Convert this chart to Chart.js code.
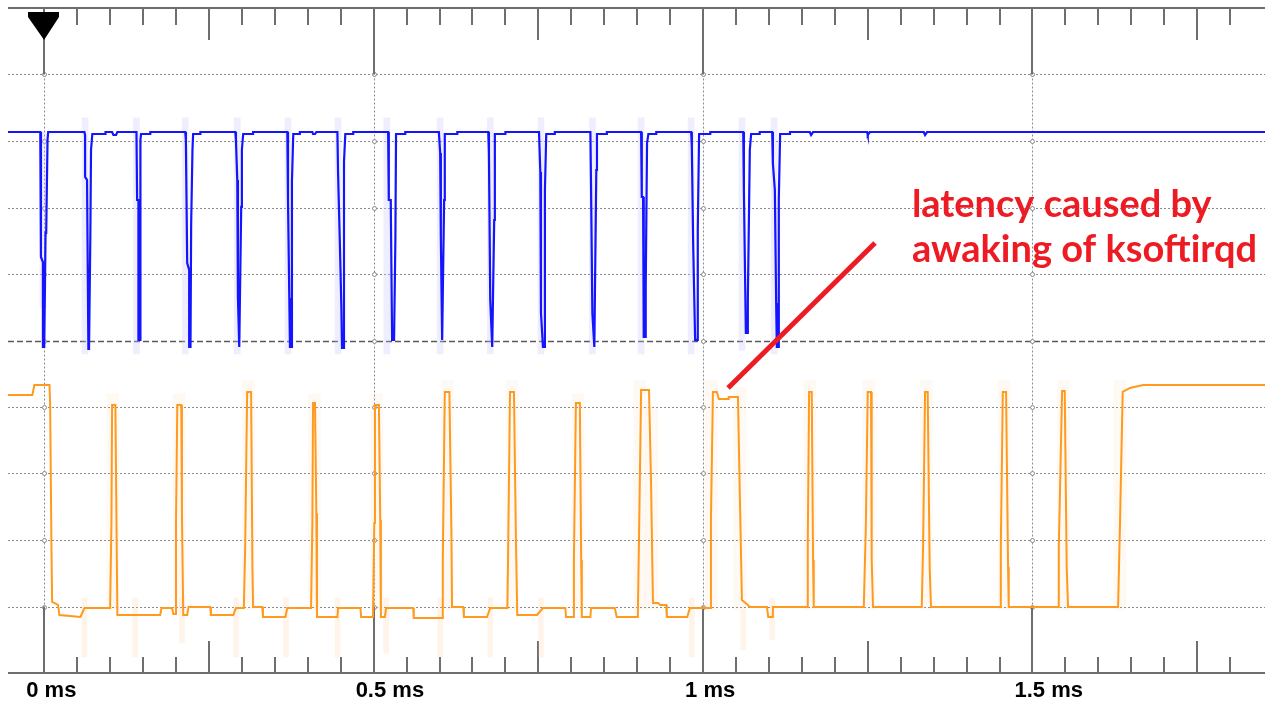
<!DOCTYPE html>
<html>
<head>
<meta charset="utf-8">
<title>ksoftirqd latency</title>
<script src="https://cdn.jsdelivr.net/npm/chart.js@4.4.0/dist/chart.umd.min.js"></script>
<style>
  body { margin: 0; background: #fff; }
  canvas { display: block; }
</style>
</head>
<body>
<canvas id="scope" width="1265" height="706"></canvas>
<script>
// time in ms, level in screen divisions (0 = bottom edge, 10 = top edge)
let blueTime = [
  -0.055, -0.006, -0.005, -0.005, -0.002, -0.002, 0.000, 0.002, 0.003, 0.005, 0.006,
  0.061, 0.062, 0.062, 0.065, 0.067, 0.068, 0.070, 0.071, 0.073, 0.093, 0.093, 0.103, 0.105, 0.109, 0.111,
  0.140, 0.141, 0.143, 0.143, 0.146, 0.146, 0.147, 0.161, 0.161,
  0.214, 0.215, 0.217, 0.220, 0.220, 0.222, 0.223, 0.225, 0.226, 0.237, 0.237,
  0.290, 0.291, 0.293, 0.294, 0.296, 0.297, 0.299, 0.300, 0.302, 0.317, 0.317,
  0.369, 0.370, 0.372, 0.373, 0.375, 0.376, 0.378, 0.388, 0.388, 0.407, 0.408, 0.411, 0.413,
  0.445, 0.446, 0.449, 0.451, 0.452, 0.454, 0.455, 0.457, 0.469, 0.469,
  0.522, 0.523, 0.526, 0.528, 0.531, 0.533, 0.534, 0.548, 0.548,
  0.599, 0.601, 0.602, 0.604, 0.605, 0.607, 0.608, 0.627, 0.627,
  0.674, 0.675, 0.677, 0.680, 0.681, 0.683, 0.684, 0.700, 0.700,
  0.751, 0.753, 0.754, 0.757, 0.759, 0.760, 0.762, 0.775, 0.775,
  0.829, 0.830, 0.832, 0.835, 0.836, 0.838, 0.839, 0.854, 0.854,
  0.906, 0.907, 0.909, 0.910, 0.912, 0.913, 0.915, 0.917, 0.929, 0.929,
  0.982, 0.983, 0.985, 0.988, 0.991, 0.992, 0.994, 1.011, 1.011,
  1.061, 1.062, 1.065, 1.067, 1.068, 1.071, 1.073, 1.086, 1.086,
  1.105, 1.106, 1.109, 1.111, 1.112, 1.114, 1.115, 1.117, 1.132, 1.132,
  1.162, 1.164, 1.167, 1.249, 1.250, 1.253, 1.335, 1.337, 1.340, 1.853
];
let blueLevel = [
  8.135, 8.135, 8.045, 6.256, 6.180, 4.902, 4.902, 6.617, 6.617, 8.015, 8.135,
  8.135, 8.090, 7.459, 7.414, 4.872, 4.872, 6.586, 7.865, 8.105, 8.105, 8.135, 8.135, 8.090, 8.090, 8.135,
  8.135, 7.113, 7.113, 5.008, 5.008, 8.015, 8.105, 8.105, 8.135,
  8.135, 8.015, 6.165, 6.060, 4.902, 4.902, 6.737, 7.865, 8.105, 8.105, 8.135,
  8.135, 8.015, 7.414, 5.654, 4.902, 4.902, 7.008, 7.865, 8.105, 8.105, 8.135,
  8.135, 7.113, 5.639, 4.902, 4.902, 7.383, 8.105, 8.105, 8.135, 8.135, 8.105, 8.105, 8.135,
  8.135, 7.519, 6.361, 5.504, 4.887, 4.887, 7.684, 8.105, 8.105, 8.135,
  8.135, 7.113, 7.113, 5.008, 5.008, 6.511, 8.105, 8.105, 8.135,
  8.135, 7.820, 6.556, 5.008, 5.008, 7.113, 8.105, 8.105, 8.135,
  8.135, 7.820, 5.609, 4.902, 4.902, 6.812, 8.105, 8.105, 8.135,
  8.135, 7.534, 5.414, 4.902, 4.902, 7.263, 8.105, 8.105, 8.135,
  8.135, 7.308, 5.414, 4.902, 4.902, 7.564, 8.105, 8.105, 8.135,
  8.135, 7.158, 7.158, 5.053, 5.053, 5.805, 7.970, 8.105, 8.105, 8.135,
  8.135, 7.910, 6.466, 5.008, 5.008, 6.662, 8.105, 8.105, 8.135,
  8.135, 7.263, 5.113, 5.113, 5.609, 7.865, 8.105, 8.105, 8.135,
  8.135, 7.669, 7.263, 5.564, 4.902, 4.902, 7.113, 8.105, 8.105, 8.135,
  8.135, 8.090, 8.135, 8.135, 8.090, 8.135, 8.135, 8.090, 8.135, 8.135
];

let orangeTime = [
  -0.055, -0.018, -0.015, 0.008, 0.009, 0.011, 0.012, 0.021, 0.023, 0.055, 0.061,
  0.100, 0.102, 0.103, 0.108, 0.109, 0.111, 0.176, 0.178, 0.194, 0.196, 0.199,
  0.200, 0.202, 0.208, 0.209, 0.211, 0.217, 0.219, 0.252, 0.253, 0.287, 0.291,
  0.303, 0.305, 0.308, 0.314, 0.316, 0.317, 0.331, 0.332, 0.366, 0.369,
  0.405, 0.407, 0.408, 0.411, 0.413, 0.414, 0.445, 0.446, 0.480, 0.481,
  0.499, 0.501, 0.502, 0.508, 0.510, 0.511, 0.517, 0.519, 0.560, 0.561,
  0.604, 0.605, 0.608, 0.615, 0.618, 0.619, 0.636, 0.637, 0.672, 0.677,
  0.703, 0.704, 0.707, 0.713, 0.716, 0.718, 0.748, 0.757, 0.791, 0.792,
  0.803, 0.804, 0.807, 0.813, 0.815, 0.816, 0.829, 0.830, 0.866, 0.869,
  0.901, 0.903, 0.906, 0.918, 0.921, 0.924, 0.932, 0.935, 0.944, 0.945, 0.976, 0.980,
  1.011, 1.012, 1.015, 1.021, 1.024, 1.038, 1.039, 1.053, 1.056, 1.059, 1.068, 1.071, 1.097, 1.099, 1.105, 1.106,
  1.158, 1.159, 1.161, 1.165, 1.167, 1.168,
  1.244, 1.247, 1.250, 1.255, 1.256, 1.258,
  1.332, 1.334, 1.337, 1.341, 1.344, 1.346,
  1.451, 1.452, 1.455, 1.460, 1.463, 1.464,
  1.539, 1.540, 1.545, 1.549, 1.552, 1.554,
  1.630, 1.633, 1.637, 1.648, 1.668, 1.853
];
let orangeLevel = [
  4.180, 4.180, 4.331, 4.331, 4.000, 1.850, 1.068, 1.023, 0.872, 0.842, 0.977,
  0.977, 2.256, 4.030, 4.030, 2.947, 0.872, 0.872, 0.977, 0.977, 0.887, 0.887,
  2.256, 4.030, 4.030, 2.406, 0.872, 0.872, 0.992, 0.992, 0.872, 0.872, 0.977,
  0.977, 1.895, 4.226, 4.226, 1.594, 0.992, 0.992, 0.842, 0.842, 0.977,
  0.977, 2.256, 4.060, 4.060, 2.406, 0.842, 0.842, 0.977, 0.977, 0.842,
  0.842, 2.256, 4.030, 4.030, 2.301, 0.842, 0.842, 0.977, 0.977, 0.827,
  0.827, 1.699, 4.226, 4.226, 2.150, 0.992, 0.992, 0.842, 0.842, 0.977,
  0.977, 1.699, 4.226, 4.226, 2.000, 0.872, 0.872, 0.977, 0.977, 0.842,
  0.842, 1.699, 4.060, 4.060, 1.699, 0.842, 0.842, 0.977, 0.977, 0.842,
  0.842, 2.150, 4.256, 4.256, 2.902, 1.053, 1.053, 1.023, 1.023, 0.842, 0.842, 0.977,
  0.977, 2.301, 4.226, 4.226, 4.120, 4.120, 4.150, 4.150, 2.602, 1.098, 1.023, 0.992, 0.992, 0.842, 0.842, 0.992,
  0.992, 2.000, 4.226, 4.226, 1.699, 0.992,
  0.992, 2.150, 4.226, 4.226, 1.699, 0.992,
  0.992, 1.895, 4.226, 4.226, 1.594, 0.992,
  0.992, 1.895, 4.226, 4.226, 1.594, 0.992,
  0.992, 1.895, 4.241, 4.241, 1.594, 0.992,
  0.992, 2.301, 4.226, 4.286, 4.331, 4.331
];

// faint persistence around the edges
let blueGlowTime = [-0.002, 0.062, 0.140, 0.214, 0.293, 0.370, 0.446, 0.520, 0.601, 0.677, 0.754, 0.832, 0.906, 0.982, 1.059, 1.108];
let blueGlowLow  = [5.50, 4.80, 4.80, 4.80, 4.80, 4.80, 4.80, 4.80, 4.80, 4.80, 4.80, 4.80, 4.80, 4.80, 4.85, 4.80];
let blueGlowHigh = [8.14, 8.35, 8.35, 8.35, 8.35, 8.35, 8.35, 8.35, 8.35, 8.35, 8.35, 8.35, 8.35, 8.35, 8.35, 8.35];

let orangeDipTime = [0.061, 0.138, 0.209, 0.291, 0.367, 0.445, 0.519, 0.601, 0.677, 0.754, 0.983, 1.061, 1.105];
let orangeDipLow  = [0.24, 0.24, 0.45, 0.24, 0.24, 0.24, 0.30, 0.24, 0.24, 0.24, 0.24, 0.35, 0.50];
let orangeDipHigh = [1.13, 1.13, 1.13, 1.13, 1.13, 1.13, 1.13, 1.13, 1.13, 1.13, 1.13, 0.95, 1.13];

let orangeEdgeTime = [0.104, 0.205, 0.310, 0.410, 0.505, 0.612, 0.710, 0.810, 0.904, 0.922, 1.012, 1.056, 1.162, 1.252, 1.339, 1.457, 1.547, 1.633];
let orangeEdgeHigh = [4.20, 4.20, 4.40, 4.20, 4.20, 4.40, 4.40, 4.20, 4.40, 4.00, 4.40, 4.30, 4.40, 4.40, 4.40, 4.40, 4.40, 4.40];

let arrowTime = [1.038, 1.261];
let arrowLevel = [4.286, 6.466];

let noteLines = ['latency caused by', 'awaking of ksoftirqd'];
let noteTime = 1.317;
let noteLevel = [6.857, 6.180];

let labelTimes = [0, 0.5, 1, 1.5];
let tickLabels = ['0 ms', '0.5 ms', '1 ms', '1.5 ms'];
let gridLevels = [1, 2, 3, 4, 5, 6, 7, 8, 9];

function toPoints(xs, ys) {
  return xs.map((x, i) => ({ x: x, y: ys[i] }));
}

let scopeFrame = {
  id: 'scopeFrame',
  beforeDatasetsDraw(chart) {
    let { ctx, chartArea: area, scales: { x, y } } = chart;
    ctx.save();

    gridLevels.forEach(level => {
      let py = Math.round(y.getPixelForValue(level)) + 0.5;
      ctx.beginPath();
      if (level === 5) {
        ctx.setLineDash([6, 3]);
        ctx.strokeStyle = '#5a5a5a';
        ctx.lineWidth = 1.5;
      } else {
        ctx.setLineDash([2, 2]);
        ctx.strokeStyle = '#8a8a8a';
        ctx.lineWidth = 1;
      }
      ctx.moveTo(area.left, py);
      ctx.lineTo(area.right, py);
      ctx.stroke();
    });

    ctx.setLineDash([2, 2]);
    ctx.strokeStyle = '#8a8a8a';
    ctx.lineWidth = 1;
    labelTimes.forEach(t => {
      let px = Math.round(x.getPixelForValue(t)) + 0.5;
      ctx.beginPath();
      ctx.moveTo(px, y.getPixelForValue(9));
      ctx.lineTo(px, y.getPixelForValue(1));
      ctx.stroke();
    });

    ctx.setLineDash([]);
    labelTimes.forEach(t => {
      let px = Math.round(x.getPixelForValue(t)) + 0.5;
      gridLevels.forEach(level => {
        ctx.beginPath();
        ctx.arc(px, Math.round(y.getPixelForValue(level)) + 0.5, 2, 0, Math.PI * 2);
        ctx.fillStyle = '#fff';
        ctx.fill();
        ctx.strokeStyle = '#8a8a8a';
        ctx.stroke();
      });
    });

    ctx.strokeStyle = '#6e6e6e';
    ctx.lineWidth = 2;
    ctx.beginPath();
    ctx.moveTo(area.left, area.top);
    ctx.lineTo(area.right, area.top);
    ctx.moveTo(area.left, area.bottom);
    ctx.lineTo(area.right, area.bottom);
    ctx.stroke();

    x.ticks.forEach(tick => {
      let k = Math.round(tick.value / 0.05);
      if (Math.abs(tick.value - k * 0.05) > 1e-6) return;
      let px = Math.round(x.getPixelForValue(tick.value));
      let topEnd, bottomEnd;
      if (k % 10 === 0) {
        topEnd = y.getPixelForValue(9);
        bottomEnd = y.getPixelForValue(1);
      } else if (k % 5 === 0) {
        topEnd = area.top + 32;
        bottomEnd = area.bottom - 32;
      } else {
        topEnd = area.top + 17;
        bottomEnd = area.bottom - 16;
      }
      ctx.beginPath();
      ctx.moveTo(px, area.top);
      ctx.lineTo(px, topEnd);
      ctx.moveTo(px, area.bottom);
      ctx.lineTo(px, bottomEnd);
      ctx.stroke();
    });
    ctx.restore();
  },
  afterDatasetsDraw(chart) {
    let { ctx, chartArea: area, scales: { x, y } } = chart;
    ctx.save();

    // trigger marker
    let tx = Math.round(x.getPixelForValue(0));
    let top = area.top;
    ctx.fillStyle = '#000';
    ctx.beginPath();
    ctx.moveTo(tx - 16, top + 4);
    ctx.lineTo(tx + 15, top + 4);
    ctx.lineTo(tx + 15, top + 9);
    ctx.lineTo(tx + 2, top + 29);
    ctx.lineTo(tx, top + 32);
    ctx.lineTo(tx - 2, top + 29);
    ctx.lineTo(tx - 16, top + 9);
    ctx.closePath();
    ctx.fill();

    ctx.fillStyle = '#ed1c24';
    ctx.font = 'bold 38px Lato';
    ctx.textBaseline = 'alphabetic';
    ctx.textAlign = 'left';
    noteLines.forEach((line, i) => {
      ctx.fillText(line, x.getPixelForValue(noteTime), y.getPixelForValue(noteLevel[i]));
    });
    ctx.restore();
  }
};

let scopeContext = document.getElementById('scope').getContext('2d');
let scopeChart = new Chart(scopeContext, {
  type: 'line',
  data: {
    datasets: [
      {
        type: 'bar',
        data: blueGlowTime.map((t, i) => ({ x: t, y: [blueGlowLow[i], blueGlowHigh[i]] })),
        backgroundColor: 'rgba(200, 200, 255, 0.3)',
        barThickness: 6,
        grouped: false,
        borderWidth: 0,
        order: 5
      },
      {
        type: 'bar',
        data: orangeDipTime.map((t, i) => ({ x: t, y: [orangeDipLow[i], orangeDipHigh[i]] })),
        backgroundColor: 'rgba(255, 200, 150, 0.2)',
        barThickness: 5,
        grouped: false,
        borderWidth: 0,
        order: 5
      },
      {
        type: 'bar',
        data: orangeEdgeTime.map((t, i) => ({ x: t, y: [0.95, orangeEdgeHigh[i]] })),
        backgroundColor: 'rgba(255, 200, 150, 0.1)',
        barThickness: 12,
        grouped: false,
        borderWidth: 0,
        order: 5
      },
      {
        data: toPoints(blueTime, blueLevel),
        borderColor: '#1414ff',
        borderWidth: 2.2,
        pointRadius: 0,
        tension: 0,
        order: 3
      },
      {
        data: toPoints(orangeTime, orangeLevel),
        borderColor: '#ff9a1f',
        borderWidth: 2,
        pointRadius: 0,
        tension: 0,
        order: 2
      },
      {
        data: toPoints(arrowTime, arrowLevel),
        borderColor: '#ed1c24',
        borderWidth: 5,
        borderCapStyle: 'butt',
        pointRadius: 0,
        order: 1
      }
    ]
  },
  options: {
    responsive: false,
    animation: false,
    events: [],
    layout: { padding: { left: 8, top: 8, right: 0, bottom: -2 } },
    plugins: {
      legend: { display: false },
      tooltip: { enabled: false }
    },
    scales: {
      x: {
        type: 'linear',
        min: -0.055,
        max: 1.853,
        offset: false,
        grid: { display: false, drawTicks: false },
        border: { display: false },
        ticks: {
          stepSize: 0.05,
          autoSkip: false,
          maxRotation: 0,
          align: 'start',
          labelOffset: -18,
          padding: 0,
          color: '#000',
          font: { family: 'Liberation Sans', size: 22, weight: 'bold', lineHeight: '35px' },
          callback: value => {
            let i = labelTimes.findIndex(t => Math.abs(t - value) < 1e-6);
            return i >= 0 ? tickLabels[i] : '';
          }
        }
      },
      y: {
        type: 'linear',
        min: 0,
        max: 10,
        display: false
      }
    }
  },
  plugins: [scopeFrame]
});
</script>
</body>
</html>
